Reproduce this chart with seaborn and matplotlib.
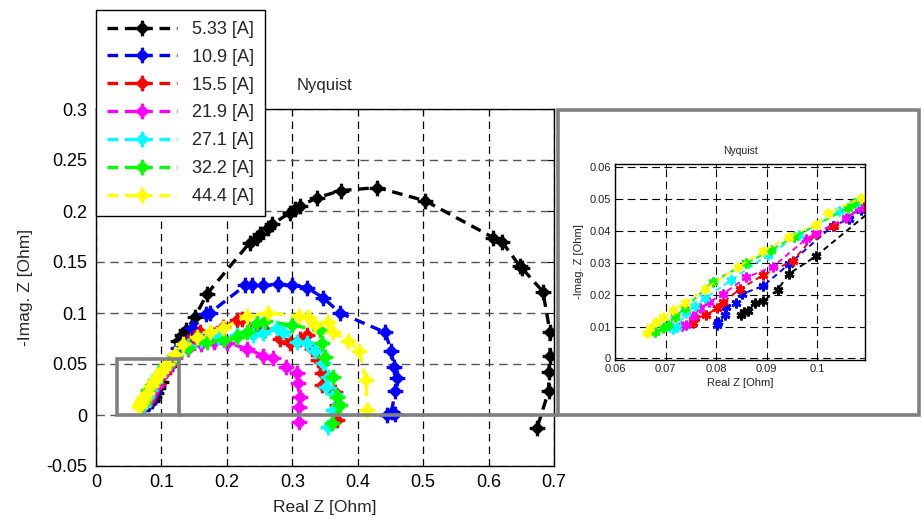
import numpy as np
import pandas as pd
import seaborn as sns
import matplotlib
matplotlib.use("Agg")
import matplotlib.pyplot as plt
from matplotlib.path import Path
from matplotlib.patches import Rectangle
from matplotlib.lines import Line2D

# ---------------- data ----------------
labels = ["5.33 [A]", "10.9 [A]", "15.5 [A]", "21.9 [A]", "27.1 [A]", "32.2 [A]", "44.4 [A]"]
colors = ["#000000", "#0000ff", "#ff0000", "#ff00ff", "#00ffff", "#00ff00", "#ffff00"]

x_533 = [0.0850, 0.0856, 0.0863, 0.0878, 0.0894, 0.0922, 0.0944, 0.0997, 0.112, 0.125, 0.131, 0.138, 0.151, 0.170,
         0.235, 0.246, 0.251, 0.263, 0.269, 0.296, 0.304, 0.312, 0.338, 0.374, 0.430, 0.503, 0.607, 0.620, 0.648,
         0.651, 0.683, 0.694, 0.694, 0.692, 0.692, 0.674]
y_533 = [0.0136, 0.0145, 0.0150, 0.0173, 0.0180, 0.0215, 0.0265, 0.0320, 0.048, 0.073, 0.078, 0.083, 0.096, 0.119,
         0.169, 0.174, 0.177, 0.183, 0.187, 0.198, 0.202, 0.205, 0.213, 0.220, 0.223, 0.210, 0.174, 0.170, 0.146,
         0.144, 0.121, 0.081, 0.058, 0.042, 0.024, -0.013]

x_109 = [0.0801, 0.0803, 0.0817, 0.0820, 0.0840, 0.0852, 0.0894, 0.0944, 0.1031, 0.1064, 0.1087, 0.125, 0.147,
         0.168, 0.174, 0.228, 0.238, 0.255, 0.278, 0.300, 0.322, 0.347, 0.373, 0.442, 0.451, 0.456, 0.460, 0.457,
         0.452, 0.445, 0.457]
y_109 = [0.0105, 0.0115, 0.0136, 0.0162, 0.0173, 0.0202, 0.0228, 0.0295, 0.0416, 0.0437, 0.0466, 0.066, 0.085,
         0.099, 0.100, 0.127, 0.127, 0.127, 0.128, 0.127, 0.125, 0.115, 0.100, 0.081, 0.063, 0.047, 0.036, 0.024,
         0.003, 0.000, 0.001]

x_155 = [0.0755, 0.0758, 0.0781, 0.0801, 0.0814, 0.0847, 0.0894, 0.0952, 0.0998, 0.1034, 0.1093, 0.120, 0.140,
         0.159, 0.194, 0.215, 0.223, 0.246, 0.258, 0.281, 0.297, 0.312, 0.322, 0.330, 0.339, 0.345, 0.345, 0.365,
         0.368, 0.368]
y_155 = [0.0112, 0.0126, 0.0136, 0.0157, 0.0176, 0.0217, 0.0262, 0.0306, 0.0390, 0.0416, 0.0476, 0.058, 0.072,
         0.081, 0.086, 0.093, 0.094, 0.086, 0.083, 0.075, 0.071, 0.075, 0.078, 0.065, 0.054, 0.041, 0.029, 0.023,
         0.010, -0.005]

x_219 = [0.0732, 0.0740, 0.0755, 0.0768, 0.0786, 0.0814, 0.0860, 0.0913, 0.0978, 0.0998, 0.1057, 0.1084, 0.120,
         0.140, 0.160, 0.180, 0.200, 0.231, 0.256, 0.271, 0.290, 0.307, 0.309, 0.312, 0.310, 0.310]
y_219 = [0.0102, 0.0105, 0.0134, 0.0157, 0.0176, 0.0202, 0.0254, 0.0288, 0.0374, 0.0393, 0.0440, 0.0471, 0.056,
         0.065, 0.070, 0.072, 0.071, 0.065, 0.058, 0.056, 0.047, 0.041, 0.031, 0.018, 0.008, -0.007]

x_271 = [0.0715, 0.0722, 0.0741, 0.0758, 0.0778, 0.0830, 0.0903, 0.0965, 0.1044, 0.1077, 0.120, 0.140, 0.160,
         0.187, 0.215, 0.240, 0.255, 0.277, 0.286, 0.307, 0.322, 0.335, 0.347, 0.355, 0.352, 0.365, 0.362, 0.355]
y_271 = [0.0091, 0.0098, 0.0141, 0.0164, 0.0188, 0.0246, 0.0325, 0.0388, 0.0461, 0.0489, 0.058, 0.068, 0.074,
         0.076, 0.078, 0.078, 0.080, 0.085, 0.081, 0.072, 0.071, 0.063, 0.051, 0.037, 0.027, 0.021, 0.005, -0.012]

x_322 = [0.0679, 0.0695, 0.0705, 0.0718, 0.0738, 0.0794, 0.0860, 0.0909, 0.0955, 0.1061, 0.1074, 0.120, 0.140,
         0.170, 0.195, 0.215, 0.231, 0.246, 0.258, 0.300, 0.342, 0.345, 0.350, 0.362, 0.368, 0.373, 0.361]
y_322 = [0.0084, 0.0094, 0.0105, 0.0129, 0.0157, 0.0241, 0.0298, 0.0340, 0.0382, 0.0471, 0.0487, 0.058, 0.066,
         0.072, 0.074, 0.076, 0.081, 0.090, 0.092, 0.088, 0.083, 0.071, 0.057, 0.037, 0.018, 0.010, -0.008]

x_444 = [0.0664, 0.0670, 0.0682, 0.0695, 0.0715, 0.0738, 0.0778, 0.0843, 0.0893, 0.0945, 0.0998, 0.1021, 0.1087,
         0.120, 0.133, 0.154, 0.174, 0.194, 0.231, 0.263, 0.310, 0.324, 0.335, 0.355, 0.362, 0.385, 0.402, 0.413,
         0.414]
y_444 = [0.0081, 0.0094, 0.0115, 0.0131, 0.0152, 0.0175, 0.0218, 0.0286, 0.0337, 0.0382, 0.0419, 0.0455, 0.0503,
         0.060, 0.070, 0.076, 0.081, 0.085, 0.097, 0.100, 0.097, 0.096, 0.088, 0.091, 0.081, 0.073, 0.063, 0.034,
         0.005]

xs = [x_533, x_109, x_155, x_219, x_271, x_322, x_444]
ys = [y_533, y_109, y_155, y_219, y_271, y_322, y_444]

main_xticks = [0, 0.1, 0.2, 0.3, 0.4, 0.5, 0.6, 0.7]
main_yticks = [-0.05, 0, 0.05, 0.1, 0.15, 0.2, 0.25, 0.3]
ins_xticks = [0.06, 0.07, 0.08, 0.09, 0.1]
ins_yticks = [0, 0.01, 0.02, 0.03, 0.04, 0.05, 0.06]

# ---------------- style ----------------
sns.set_theme(style="white")
plt.rcParams["font.family"] = ["Liberation Sans", "DejaVu Sans"]

# fat diamond with short cross tips
w = 0.15
d = 0.85
verts = [(-w, 1), (w, 1), (w, d - w), (d - w, w), (1, w), (1, -w), (d - w, -w), (w, -(d - w)), (w, -1),
         (-w, -1), (-w, -(d - w)), (-(d - w), -w), (-1, -w), (-1, w), (-(d - w), w), (-w, d - w), (-w, 1)]
mk = Path(verts, closed=True)

fig = plt.figure(figsize=(9.22, 5.20), dpi=100)
W, H = 922, 520

def fr(x0, y0, x1, y1):
    return [x0 / W, 1 - y1 / H, (x1 - x0) / W, (y1 - y0) / H]

ax = fig.add_axes(fr(96, 109, 554, 466))

for xv, yv, c, lab in zip(xs, ys, colors, labels):
    df = pd.DataFrame({"x": xv, "y": yv})
    sns.lineplot(data=df, x="x", y="y", sort=False, estimator=None, ax=ax, color=c, label=lab,
                 linestyle=(0, (3.2, 2.0)), linewidth=2.4, marker=mk, markersize=10.5,
                 markeredgewidth=0.8, markeredgecolor=c, markerfacecolor=c)

ax.set_xlim(0, 0.7)
ax.set_ylim(-0.05, 0.3)
ax.set_xticks(main_xticks)
ax.set_yticks(main_yticks)
ax.set_xticklabels([f"{v:g}" for v in main_xticks])
ax.set_yticklabels([f"{v:g}" for v in main_yticks])
ax.tick_params(direction="in", length=4, width=0.8, top=True, right=True, labelsize=13, colors="black",
               pad=6)
ax.xaxis.grid(True, color="black", linestyle=(0, (6, 4)), linewidth=0.9)
ax.yaxis.grid(True, color="#555555", linestyle=(0, (6, 4)), linewidth=1.0)
for s in ax.spines.values():
    s.set_color("black")
    s.set_linewidth(1.0)
ax.set_xlabel("Real Z [Ohm]", fontsize=12.5, labelpad=6)
ax.set_ylabel("-Imag. Z [Ohm]", fontsize=12.5, labelpad=10)
ax.set_title("Nyquist", fontsize=12, pad=14)

# zoom box
ax.add_patch(Rectangle((0.032, 0.0), 0.095, 0.0546, fill=False, edgecolor="#808080", linewidth=2.6,
                       zorder=5, clip_on=False))

leg = ax.legend(loc="upper left", bbox_to_anchor=(96 / W, 1 - 10 / H), bbox_transform=fig.transFigure,
                fontsize=13, handlelength=3.9, handletextpad=0.8, labelspacing=0.6, borderpad=0.6,
                fancybox=False, framealpha=1, edgecolor="black", borderaxespad=0)
leg.get_frame().set_linewidth(1.0)
leg.set_zorder(20)

# inset frame
fig.add_artist(Rectangle((558 / W, 1 - 415 / H), 361 / W, 305 / H, transform=fig.transFigure,
                         fill=True, facecolor="white", edgecolor="#808080", linewidth=2.6, zorder=3))
fig.add_artist(Line2D([179 / W, 558 / W], [1 - 415 / H, 1 - 415 / H], transform=fig.transFigure,
                      color="#808080", linewidth=2.6, zorder=4))

ins = fig.add_axes(fr(615, 164, 865, 360))
ins.set_zorder(6)
for xv, yv, c in zip(xs, ys, colors):
    df = pd.DataFrame({"x": xv, "y": yv})
    sns.lineplot(data=df, x="x", y="y", sort=False, estimator=None, ax=ins, color=c,
                 linestyle=(0, (3, 2)), linewidth=1.4, marker=(6, 2, 0), markersize=7,
                 markeredgewidth=2.0, markeredgecolor=c, markerfacecolor=c, legend=False)
ins.set_xlim(0.06, 0.1095)
ins.set_ylim(-0.0005, 0.061)
ins.set_xticks(ins_xticks)
ins.set_yticks(ins_yticks)
ins.set_xticklabels([f"{v:g}" for v in ins_xticks])
ins.set_yticklabels([f"{v:g}" for v in ins_yticks])
ins.tick_params(direction="in", length=3, width=0.8, top=True, right=True, labelsize=8, colors="#222222",
                pad=3)
ins.grid(True, color="black", linestyle=(0, (7, 4)), linewidth=0.8)
for s in ins.spines.values():
    s.set_color("black")
    s.set_linewidth(1.0)
ins.set_xlabel("Real Z [Ohm]", fontsize=8, labelpad=3, color="#222222")
ins.set_ylabel("-Imag. Z [Ohm]", fontsize=8, labelpad=4, color="#222222")
ins.set_title("Nyquist", fontsize=7.5, pad=7, color="#222222")

fig.savefig("out.png", dpi=100)
